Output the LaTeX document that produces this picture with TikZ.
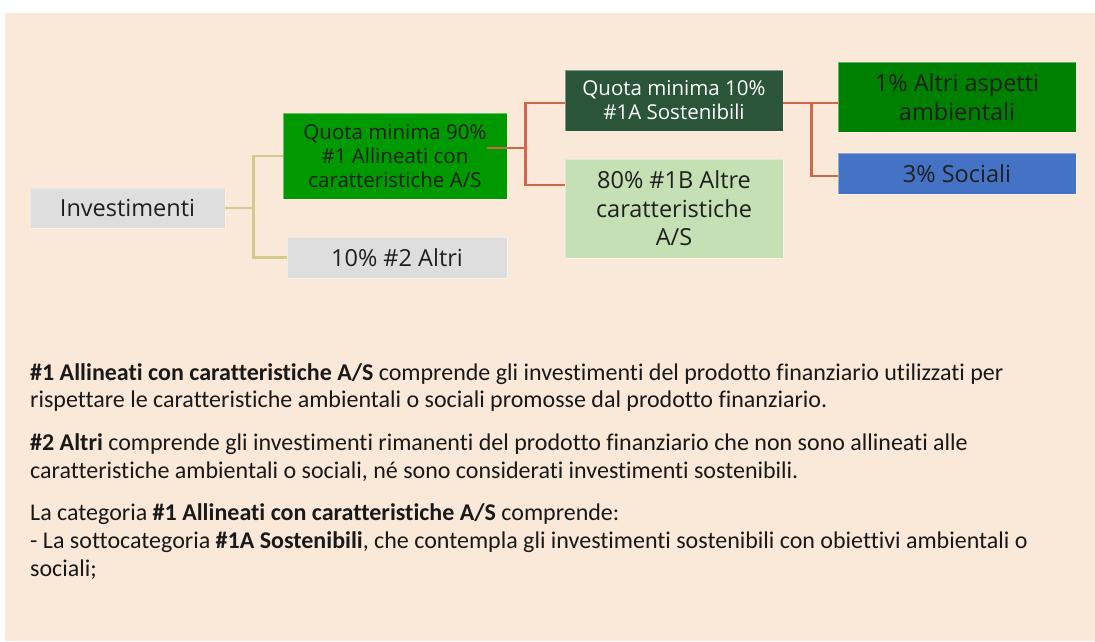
\documentclass[tikz,border=0pt]{standalone}
\usepackage{fontspec}
\setmainfont{Open Sans}
\newfontfamily\calibri{Carlito}[Ligatures=NoCommon]
\definecolor{sfondo}{HTML}{FAE8D8}
\definecolor{sedo}{HTML}{DEDEDE}
\definecolor{verde1}{HTML}{009900}
\definecolor{verde2}{HTML}{008000}
\definecolor{verdescuro}{HTML}{2A5538}
\definecolor{verdechiaro}{HTML}{C5E0B4}
\definecolor{blu}{HTML}{4472C4}
\definecolor{ocra}{HTML}{D6C98C}
\definecolor{rosso}{HTML}{D0674C}
\tikzstyle{box} = [rectangle, inner sep=0pt, align=center, text=black!88, draw=white, draw opacity=0.4, line width=0.8pt]
\tikzstyle{linka1} = [line width=2.5pt, draw=ocra]
\tikzstyle{linka2} = [line width=2.5pt, draw=rosso]
\newcommand{\velky}{\fontsize{23.5}{28.5}\selectfont}
\newcommand{\maly}{\fontsize{20.5}{24}\selectfont}

\begin{document}
\begin{tikzpicture}[x=1pt, y=-1pt, every node/.style={font=\velky}]
		\useasboundingbox (0,0) rectangle (1095,641);
		\fill [sfondo] (5,13) rectangle (1095,641);

		\node (inv) [box, fill=sedo, minimum width=195pt, minimum height=40pt] at (127.5,208) {Investimenti};
		\node (kat1) [box, fill=verde1, font=\maly, minimum width=224pt, minimum height=86pt, right of=inv, node distance=267.5pt, yshift=52pt] {Quota minima 90\%\\\#1 Allineati con\\caratteristiche A/S};
		\node (kat2) [box, fill=sedo, minimum width=220pt, minimum height=41pt, below of=kat1, node distance=101.5pt, xshift=2pt] {10\% \#2 Altri};

		\node (sub1a) [box, fill=verdescuro, text=white!94, font=\maly, minimum width=218pt, minimum height=61pt, right of=kat1, node distance=279pt, yshift=55.5pt] {Quota minima 10\%\\\#1A Sostenibili};
		\node (sub1b) [box, fill=verdechiaro, minimum width=218pt, minimum height=99pt, below of=sub1a, node distance=108pt] {80\% \#1B Altre\\caratteristiche\\A/S};

		\node (pod1) [box, fill=verde2, minimum width=238pt, minimum height=70pt, right of=sub1a, node distance=283pt, yshift=3.5pt] {1\% Altri aspetti\\ambientali};
		\node (pod2) [box, fill=blu, minimum width=238pt, minimum height=41pt, below of=pod1, node distance=76.5pt] {3\% Sociali};

		\draw [linka1] (inv.east) -- ++(28,0) coordinate (r0) |- (kat1.west);
		\draw [linka1] (r0) |- (kat2.west);
		\draw [linka2] ([xshift=-20pt, yshift=8pt]kat1.east) -- ++(38,0) coordinate (r1) |- ([yshift=-2.5pt]sub1a.west);
		\draw [linka2] (r1) |- ([yshift=23.5pt]sub1b.west);
		\draw [linka2] ([yshift=-2.5pt]sub1a.east) -- ++(28,0) coordinate (r2) -- ([yshift=-6pt]pod1.west);
		\draw [linka2] (r2) |- ([yshift=-2.5pt]pod2.west);

		\node (popis) [anchor=north west, inner sep=0pt, align=left, text=black!90, font=\calibri\fontsize{24}{27.7}\selectfont] at (30,363) {\textbf{\#1 Allineati con caratteristiche A/S} comprende gli investimenti del prodotto finanziario utilizzati per\\rispettare le caratteristiche ambientali o sociali promosse dal prodotto finanziario.\\[15pt]\textbf{\#2 Altri} comprende gli investimenti rimanenti del prodotto finanziario che non sono allineati alle\\caratteristiche ambientali o sociali, né sono considerati investimenti sostenibili.\\[15pt]La categoria \textbf{\#1 Allineati con caratteristiche A/S} comprende:\\- La sottocategoria \textbf{\#1A Sostenibili}, che contempla gli investimenti sostenibili con obiettivi ambientali o\\sociali;};
	\end{tikzpicture}
\end{document}
